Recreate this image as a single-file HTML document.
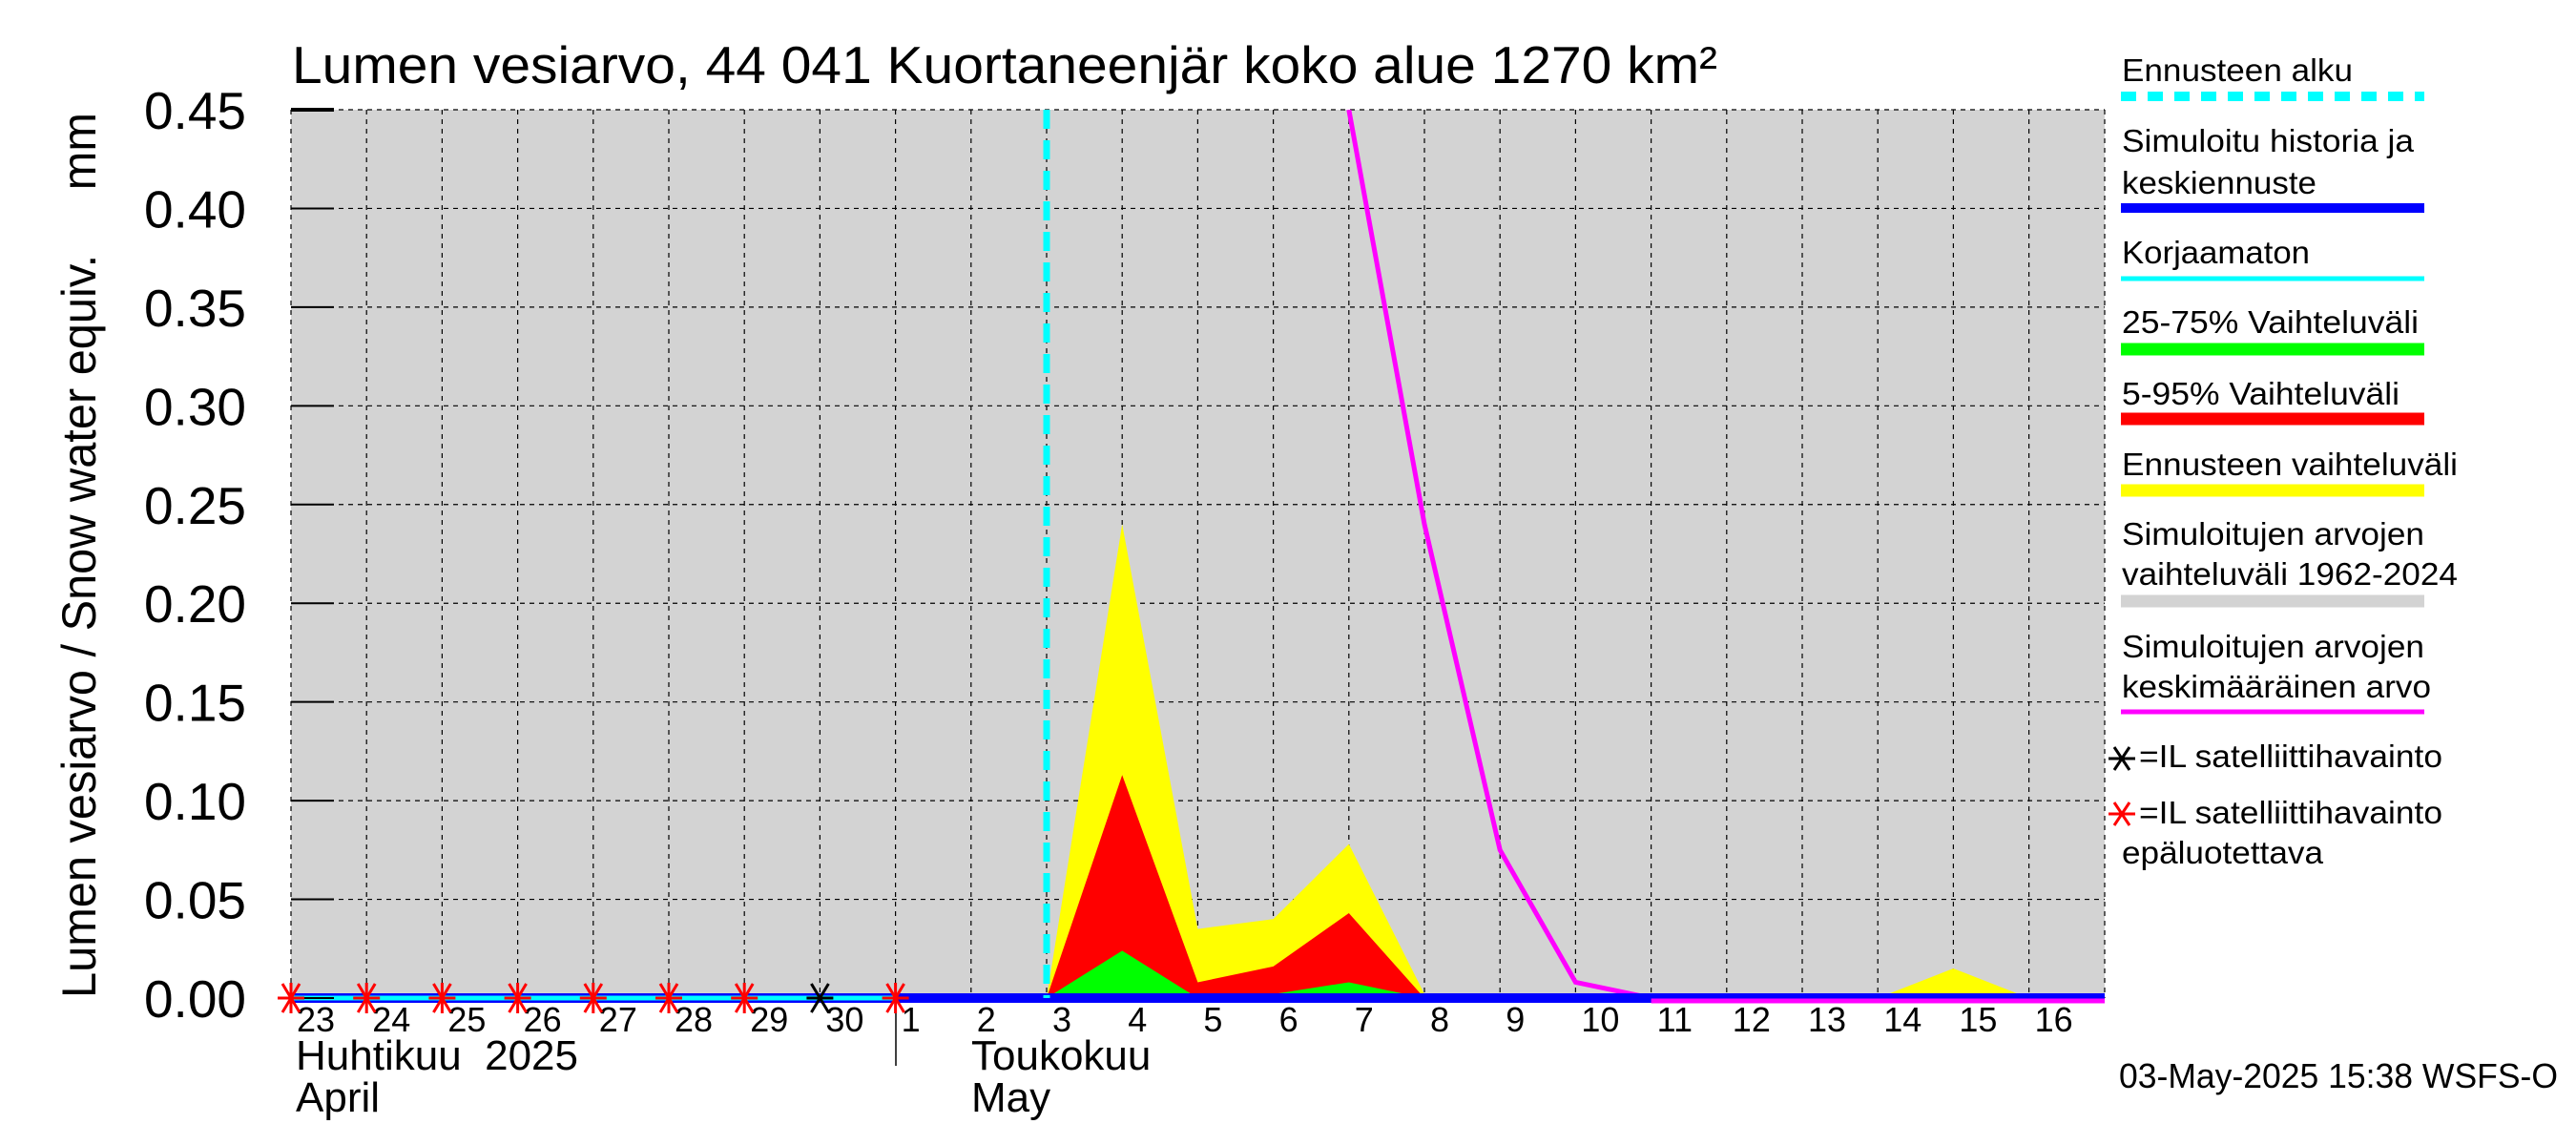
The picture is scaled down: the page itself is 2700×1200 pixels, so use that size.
<!DOCTYPE html>
<html><head><meta charset="utf-8"><style>
html,body{margin:0;padding:0;background:#fff}
svg{display:block;font-family:"Liberation Sans",sans-serif}
</style></head><body>
<svg id="chart" width="2700" height="1200" viewBox="0 0 2700 1200" xmlns="http://www.w3.org/2000/svg">
<defs><clipPath id="pc"><rect x="305" y="115" width="1901" height="945"/></clipPath></defs>
<rect width="2700" height="1200" fill="#fff"/>
<text x="306" y="87" font-size="55" textLength="1494" lengthAdjust="spacingAndGlyphs">Lumen vesiarvo, 44 041 Kuortaneenjär koko alue 1270 km²</text>
<rect x="305" y="115" width="1901" height="931" fill="#d3d3d3"/>
<g id="grid"></g>
<g id="series" clip-path="url(#pc)"></g>
<g id="axes"></g>
<text transform="translate(100,1046) rotate(-90)" font-size="50" style="white-space:pre" textLength="928" lengthAdjust="spacingAndGlyphs">Lumen vesiarvo / Snow water equiv.     mm</text>
<text x="310" y="1121" font-size="44" style="white-space:pre">Huhtikuu  2025</text>
<text x="310" y="1165" font-size="44">April</text>
<text x="1018" y="1121" font-size="44">Toukokuu</text>
<text x="1018" y="1165" font-size="44">May</text>
<line x1="939" y1="1048" x2="939" y2="1117" stroke="#000" stroke-width="1.5"/>
<text x="2221" y="1140" font-size="36" textLength="460" lengthAdjust="spacingAndGlyphs">03-May-2025 15:38 WSFS-O</text>
<g font-size="33">
<text x="2224" y="85" textLength="242" lengthAdjust="spacingAndGlyphs">Ennusteen alku</text>
<line x1="2223" y1="101" x2="2541" y2="101" stroke="#00ffff" stroke-width="10" stroke-dasharray="16,12"/>
<text x="2224" y="159" textLength="306" lengthAdjust="spacingAndGlyphs">Simuloitu historia ja</text>
<text x="2224" y="203" textLength="204" lengthAdjust="spacingAndGlyphs">keskiennuste</text>
<line x1="2223" y1="218" x2="2541" y2="218" stroke="#0000ff" stroke-width="10"/>
<text x="2224" y="276" textLength="197" lengthAdjust="spacingAndGlyphs">Korjaamaton</text>
<line x1="2223" y1="292" x2="2541" y2="292" stroke="#00ffff" stroke-width="5"/>
<text x="2224" y="349" textLength="311" lengthAdjust="spacingAndGlyphs">25-75% Vaihteluväli</text>
<line x1="2223" y1="366" x2="2541" y2="366" stroke="#00ff00" stroke-width="13"/>
<text x="2224" y="424" textLength="291" lengthAdjust="spacingAndGlyphs">5-95% Vaihteluväli</text>
<line x1="2223" y1="439" x2="2541" y2="439" stroke="#ff0000" stroke-width="13"/>
<text x="2224" y="498" textLength="352" lengthAdjust="spacingAndGlyphs">Ennusteen vaihteluväli</text>
<line x1="2223" y1="514" x2="2541" y2="514" stroke="#ffff00" stroke-width="13"/>
<text x="2224" y="571" textLength="317" lengthAdjust="spacingAndGlyphs">Simuloitujen arvojen</text>
<text x="2224" y="613" textLength="352" lengthAdjust="spacingAndGlyphs">vaihteluväli 1962-2024</text>
<line x1="2223" y1="630" x2="2541" y2="630" stroke="#d3d3d3" stroke-width="13"/>
<text x="2224" y="689" textLength="317" lengthAdjust="spacingAndGlyphs">Simuloitujen arvojen</text>
<text x="2224" y="731" textLength="324" lengthAdjust="spacingAndGlyphs">keskimääräinen arvo</text>
<line x1="2223" y1="746" x2="2541" y2="746" stroke="#ff00ff" stroke-width="5"/>
<g stroke="#000" stroke-width="3"><line x1="2210" y1="795" x2="2238" y2="795"/><line x1="2216" y1="783" x2="2232" y2="807"/><line x1="2232" y1="783" x2="2216" y2="807"/></g>
<text x="2242" y="804" textLength="318" lengthAdjust="spacingAndGlyphs">=IL satelliittihavainto</text>
<g stroke="#ff0000" stroke-width="3"><line x1="2210" y1="853" x2="2238" y2="853"/><line x1="2216" y1="841" x2="2232" y2="865"/><line x1="2232" y1="841" x2="2216" y2="865"/></g>
<text x="2242" y="863" textLength="318" lengthAdjust="spacingAndGlyphs">=IL satelliittihavainto</text>
<text x="2224" y="905" textLength="211" lengthAdjust="spacingAndGlyphs">epäluotettava</text>
</g>
</svg>
<script>
const dayLabels=["23","24","25","26","27","28","29","30","1","2","3","4","5","6","7","8","9","10","11","12","13","14","15","16"];
const yTicks=[0,0.05,0.1,0.15,0.2,0.25,0.3,0.35,0.4,0.45];
const yellowUpper=[0,0,0,0,0,0,0,0,0,0,0,0.24,0.035,0.04,0.078,0.002,0,0,0,0,0,0,0.015,0,0];
const redUpper=[0,0,0,0,0,0,0,0,0,0,0,0.113,0.008,0.016,0.043,0,0,0,0,0,0,0,0,0,0];
const greenUpper=[0,0,0,0,0,0,0,0,0,0,0,0.024,0,0.002,0.008,0,0,0,0,0,0,0,0,0,0];
const meanStart=14;
const meanValues=[0.45,0.24,0.075,0.008,0,0,0,0,0,0,0];
const obsIdx=[0,1,2,3,4,5,6,7,8];
const obsReliable=[false,false,false,false,false,false,false,true,false];
const forecastIdx=10;
const simValue=0;
const NS="http://www.w3.org/2000/svg";
const X0=305,DX=79.2,Y0=1046,YTOP=115,YMAX=0.45;
const xs=i=>X0+i*DX;
const ys=v=>Y0-(v/YMAX)*(Y0-YTOP);
function mk(tag,attrs,parent){const e=document.createElementNS(NS,tag);for(const k in attrs)e.setAttribute(k,attrs[k]);parent.appendChild(e);return e;}
const grid=document.getElementById('grid'),ser=document.getElementById('series'),axes=document.getElementById('axes');
dayLabels.forEach((d,i)=>{
 const l=mk('line',{x1:xs(i),y1:YTOP,x2:xs(i),y2:Y0,stroke:'#000','stroke-width':1.2,'stroke-dasharray':'5,5'},grid);
 
 
 const t=mk('text',{x:xs(i)+6,y:1081,'font-size':36},axes);
 t.textContent=d;
 
 
});
{const l=mk('line',{x1:2206,y1:YTOP,x2:2206,y2:Y0,stroke:'#000','stroke-width':1.2,'stroke-dasharray':'5,5'},grid);

}
yTicks.forEach(v=>{
 const l=mk('line',{x1:X0,y1:ys(v),x2:2206,y2:ys(v),stroke:'#000','stroke-width':1.2,'stroke-dasharray':'5,5'},grid);
 
 
 const tk=mk('line',{x1:X0,y1:ys(v),x2:X0+45,y2:ys(v),stroke:'#000','stroke-width':v===YMAX?4:2},axes);
 
 
 const t=mk('text',{x:258,y:ys(v)+20,'font-size':55,'text-anchor':'end'},axes);
 t.textContent=v.toFixed(2);
 
 
});
function area(arr,color,name){
 let d='M'+xs(forecastIdx)+','+ys(0);
 for(let i=forecastIdx;i<arr.length;i++)d+=' L'+xs(i)+','+ys(arr[i]);
 d+=' L'+xs(arr.length-1)+','+ys(0)+' Z';
 const p=mk('path',{d:d,fill:color},ser);
 
 
}
area(yellowUpper,'#ffff00','forecast-range-area');
area(redUpper,'#ff0000','range-5-95-area');
area(greenUpper,'#00ff00','range-25-75-area');
{let pts=meanValues.map((v,k)=>xs(meanStart+k)+','+ys(v)).join(' ');
const p=mk('polyline',{points:pts,fill:'none',stroke:'#ff00ff','stroke-width':5},ser);

}
{const l=mk('line',{x1:xs(obsIdx[obsIdx.length-1]),y1:ys(simValue),x2:2206,y2:ys(simValue),stroke:'#0000ff','stroke-width':10},ser);


const l2=mk('line',{x1:X0,y1:ys(simValue),x2:xs(obsIdx[obsIdx.length-1]),y2:ys(simValue),stroke:'#0000ff','stroke-width':10},ser);


const l3=mk('line',{x1:X0,y1:ys(simValue),x2:xs(obsIdx[obsIdx.length-1]),y2:ys(simValue),stroke:'#00ffff','stroke-width':5},ser);


const mz=meanStart+meanValues.findIndex(v=>v===0);
const l4=mk('line',{x1:xs(mz),y1:ys(0)+3,x2:2206,y2:ys(0)+3,stroke:'#ff00ff','stroke-width':5},ser);

}
{const l=mk('line',{x1:xs(forecastIdx),y1:YTOP,x2:xs(forecastIdx),y2:Y0,stroke:'#00ffff','stroke-width':7,'stroke-dasharray':'20,12'},ser);

}
const svg=document.getElementById('chart');
obsIdx.forEach((i,k)=>{
 const g=mk('g',{stroke:obsReliable[k]?'#000':'#ff0000','stroke-width':3},svg);
 
 
 const cx=xs(i),cy=ys(simValue);
 mk('line',{x1:cx-14,y1:cy,x2:cx+14,y2:cy},g);
 mk('line',{x1:cx-9,y1:cy-15,x2:cx+9,y2:cy+15},g);
 mk('line',{x1:cx+9,y1:cy-15,x2:cx-9,y2:cy+15},g);
 if(!obsReliable[k])mk('line',{x1:cx,y1:cy-16,x2:cx,y2:cy+16},g);
});
</script>
</body></html>
